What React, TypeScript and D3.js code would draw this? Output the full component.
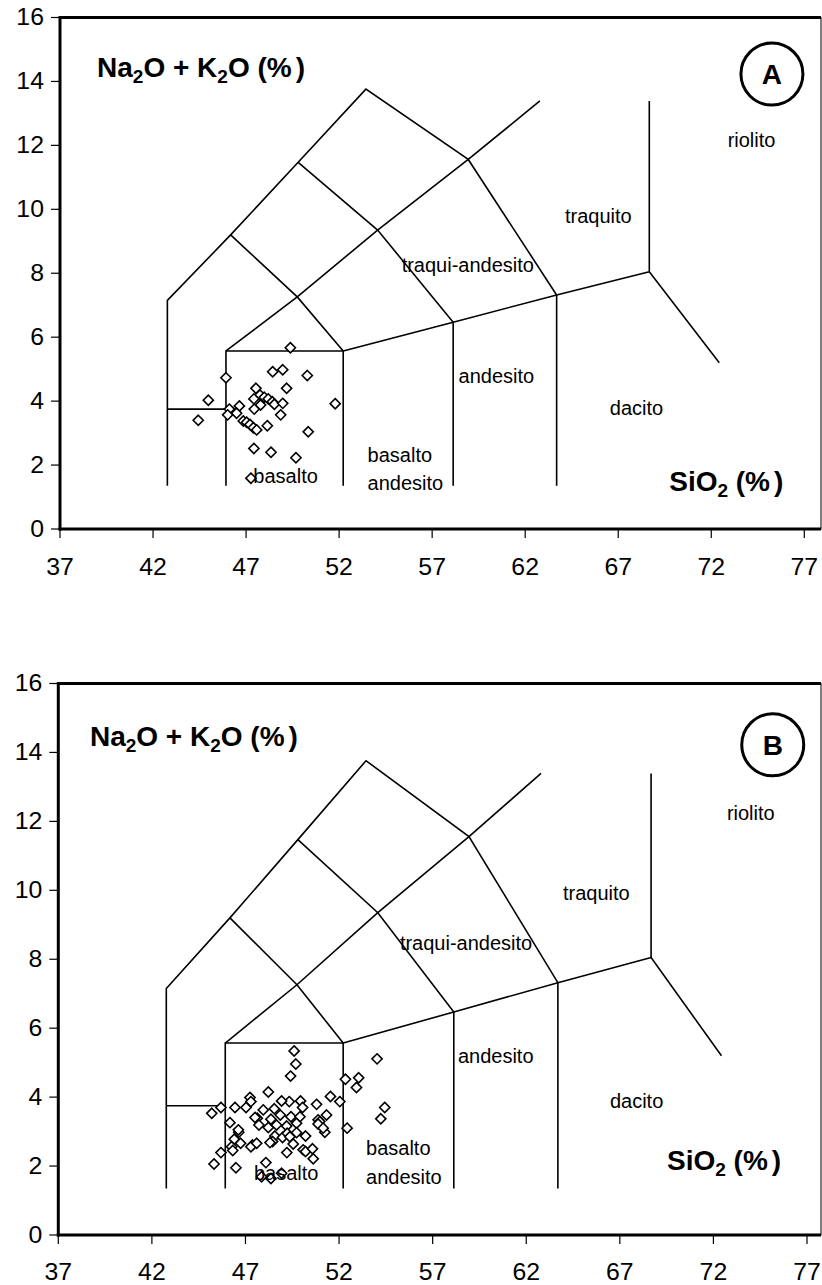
import React from 'react'
import * as d3 from 'd3'

const xTicks = [37, 42, 47, 52, 57, 62, 67, 72, 77]
const yTicks = [0, 2, 4, 6, 8, 10, 12, 14, 16]

// TAS field boundaries (SiO2 %, Na2O+K2O %)
const outerLine = [[42.77, 1.35], [42.77, 7.15], [46.17, 9.2], [49.8, 11.47], [53.44, 13.76], [58.94, 11.56], [63.69, 7.32], [63.69, 1.35]]
const upperArm = [[58.94, 11.56], [62.79, 13.39]]
const diagonalLine = [[45.92, 5.57], [49.75, 7.26], [54.07, 9.35], [58.94, 11.56]]
const tephriteLine = [[46.17, 9.2], [49.75, 7.26], [52.22, 5.57]]
const trachyLine = [[49.8, 11.47], [54.07, 9.35], [58.13, 6.47], [58.13, 1.35]]
const andesiteTop = [[52.22, 5.57], [58.13, 6.47], [63.69, 7.32], [68.67, 8.05]]
const trachyteLine = [[68.67, 13.39], [68.67, 8.05], [72.43, 5.2]]
const basaltBox = [[45.92, 1.35], [45.92, 5.57], [52.22, 5.57], [52.22, 1.35]]
const picroLine = [[42.77, 3.75], [45.92, 3.75]]
const boundaries = [outerLine, upperArm, diagonalLine, tephriteLine, trachyLine, andesiteTop, trachyteLine, basaltBox, picroLine]

// samples, diagram A
const sio2A = [49.38, 48.43, 48.97, 50.29, 45.92, 49.18, 47.53, 44.97, 51.79, 47.75, 47.98, 47.42, 48.19, 48.41, 48.52, 48.97, 47.78, 47.44, 48.86, 46.1, 46.64, 46.49, 46.01, 44.43, 46.85, 47.03, 47.21, 47.39, 47.57, 48.14, 50.34, 47.42, 48.34, 49.68, 47.26]
const alkA = [5.67, 4.92, 4.98, 4.8, 4.73, 4.4, 4.4, 4.03, 3.92, 4.19, 4.12, 4.07, 4.07, 3.98, 3.9, 3.93, 3.88, 3.75, 3.57, 3.75, 3.85, 3.62, 3.57, 3.4, 3.38, 3.34, 3.27, 3.17, 3.1, 3.23, 3.04, 2.52, 2.4, 2.23, 1.59]

// samples, diagram B
const sio2B = [49.6, 49.69, 49.41, 54.03, 52.34, 53.05, 52.93, 54.44, 54.23, 52.43, 48.22, 51.54, 52.04, 50.8, 49.94, 50.05, 49.34, 48.93, 47.24, 47.29, 47.03, 46.44, 45.69, 45.2, 47.95, 48.54, 48.86, 49.43, 49.91, 50.88, 50.97, 51.33, 51.24, 46.17, 47.63, 47.72, 48.22, 48.66, 49.2, 49.73, 46.64, 46.4, 48.57, 48.45, 48.98, 49.23, 49.37, 49.73, 50.21, 49.55, 47.38, 47.29, 47.6, 48.31, 46.74, 46.26, 46.32, 45.69, 49.21, 50.08, 50.21, 50.58, 50.62, 48.09, 46.49, 45.32, 47.86, 48.36, 48.93, 48.36, 47.51, 46.62, 50.88, 51.15]
const alkB = [5.34, 4.96, 4.61, 5.11, 4.52, 4.56, 4.28, 3.7, 3.37, 3.1, 4.15, 4.02, 3.87, 3.79, 3.89, 3.7, 3.87, 3.89, 3.99, 3.87, 3.7, 3.7, 3.7, 3.53, 3.63, 3.66, 3.48, 3.43, 3.43, 3.34, 3.29, 3.48, 2.98, 3.26, 3.39, 3.19, 3.12, 3.19, 3.16, 3.24, 2.98, 2.78, 2.87, 2.71, 2.83, 2.95, 2.85, 2.97, 2.87, 2.64, 2.61, 2.56, 2.66, 2.68, 2.66, 2.56, 2.45, 2.39, 2.39, 2.47, 2.42, 2.5, 2.21, 2.1, 1.95, 2.06, 1.69, 1.64, 1.79, 3.36, 3.41, 3.05, 3.22, 3.1]

const fieldNames = ['riolito', 'traquito', 'traqui-andesito', 'andesito', 'dacito', 'basalto', 'andesito', 'basalto']
// anchors (SiO2, alkali) of the field names in each diagram
const fieldPosA = [[72.88, 11.94], [64.14, 9.58], [55.36, 8.05], [58.42, 4.58], [66.55, 3.57], [53.53, 2.09], [53.53, 1.22], [47.39, 1.43]]
const fieldPosB = [[72.72, 12.04], [63.96, 9.72], [55.25, 8.27], [58.35, 4.99], [66.47, 3.68], [53.44, 2.32], [53.44, 1.48], [47.45, 1.6]]

const FONT = "'Liberation Sans', Arial, Helvetica, sans-serif"

function Tas({ top, bottom, left, x77, right, sio2, alk, letter, fieldPos, titleAt, axisAt, circleAt, xLabelGap }) {
  const x = d3.scaleLinear().domain([37, 77]).range([left, x77])
  const y = d3.scaleLinear().domain([0, 16]).range([bottom, top])
  const line = d3.line().x(d => x(d[0])).y(d => y(d[1]))
  const diamond = d3.symbol(d3.symbolDiamond2, 66)()
  const sub = 19

  return (
    <g fontFamily={FONT}>
      <rect x={left} y={top} width={right - left} height={bottom - top} fill="#fff" stroke="#000" strokeWidth={1} />
      {boundaries.map((b, i) => (
        <path key={i} d={line(b)} fill="none" stroke="#000" strokeWidth={1.6} strokeLinejoin="miter" />
      ))}
      {sio2.map((s, i) => (
        <path key={i} d={diamond} transform={`translate(${x(s)},${y(alk[i])})`} fill="#fff" stroke="#000" strokeWidth={1.6} />
      ))}
      {fieldNames.map((n, i) => (
        <text key={i} x={x(fieldPos[i][0])} y={y(fieldPos[i][1])} fontSize={20} fill="#000">{n}</text>
      ))}
      <text x={x(titleAt[0])} y={y(titleAt[1])} fontSize={28} fontWeight="bold">
        Na<tspan fontSize={sub} dy={6}>2</tspan><tspan dy={-6}>O + K</tspan><tspan fontSize={sub} dy={6}>2</tspan><tspan dy={-6}>O (%</tspan><tspan dx={4}>)</tspan>
      </text>
      <text x={x(axisAt[0])} y={y(axisAt[1])} fontSize={28} fontWeight="bold">
        SiO<tspan fontSize={sub} dy={6}>2</tspan><tspan dy={-6}> (%</tspan><tspan dx={4}>)</tspan>
      </text>
      <circle cx={x(circleAt[0])} cy={y(circleAt[1])} r={31} fill="none" stroke="#000" strokeWidth={3} />
      <text x={x(circleAt[0])} y={y(circleAt[1]) + 10} fontSize={28} fontWeight="bold" textAnchor="middle">{letter}</text>
      {/* axes */}
      <line x1={left} x2={right} y1={top} y2={top} stroke="#000" strokeWidth={3} />
      <line x1={left} x2={left} y1={top - 1.5} y2={bottom + 1.5} stroke="#000" strokeWidth={3} />
      <line x1={left - 1.5} x2={right} y1={bottom} y2={bottom} stroke="#000" strokeWidth={3} />
      {yTicks.map(t => (
        <g key={t}>
          <line x1={left - 9} x2={left} y1={y(t)} y2={y(t)} stroke="#000" strokeWidth={1.2} />
          <text x={left - 16} y={y(t) + 8} fontSize={23} textAnchor="end" transform={`translate(${left - 16},0) scale(1.08,1) translate(${-(left - 16)},0)`}>{t}</text>
        </g>
      ))}
      {xTicks.map(t => (
        <g key={t}>
          <line x1={x(t)} x2={x(t)} y1={bottom} y2={bottom + 9} stroke="#000" strokeWidth={1.2} />
          <text x={x(t)} y={bottom + xLabelGap} fontSize={23} textAnchor="middle" transform={`translate(${x(t)},0) scale(1.08,1) translate(${-x(t)},0)`}>{t}</text>
        </g>
      ))}
    </g>
  )
}

export default function App() {
  return (
    <svg width={822} height={1285} style={{ position: 'absolute', left: 0, top: 0, background: '#fff' }}>
      <Tas top={17.5} bottom={529} left={60} x77={804.3} right={821} sio2={sio2A} alk={alkA} letter="A" xLabelGap={46}
        fieldPos={fieldPosA} titleAt={[38.99, 14.13]} axisAt={[69.74, 1.2]} circleAt={[75.26, 14.23]} />
      <Tas top={683.5} bottom={1235} left={58.3} x77={807} right={821} sio2={sio2B} alk={alkB} letter="B" xLabelGap={45}
        fieldPos={fieldPosB} titleAt={[38.69, 14.19]} axisAt={[69.52, 1.89]} circleAt={[75.17, 14.22]} />
    </svg>
  )
}
